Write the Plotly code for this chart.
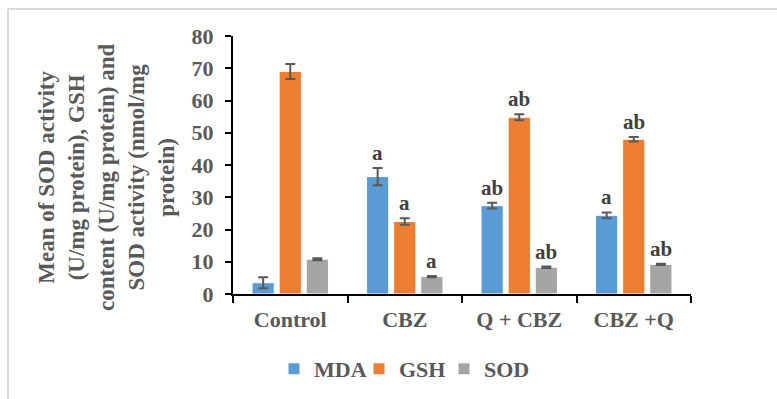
import plotly.graph_objects as go

categories = ["Control", "CBZ", "Q + CBZ", "CBZ +Q"]
series_names = ["MDA", "GSH", "SOD"]
mda = [3.5, 36.4, 27.4, 24.4]
mda_err = [1.7, 2.7, 0.9, 0.9]
gsh = [69.0, 22.5, 54.8, 48.0]
gsh_err = [2.3, 1.0, 0.9, 0.7]
sod = [10.8, 5.4, 8.3, 9.2]
sod_err = [0.3, 0.2, 0.2, 0.2]
letters_mda = ["", "a", "ab", "a"]
letters_gsh = ["", "a", "ab", "ab"]
letters_sod = ["", "a", "ab", "ab"]
y_ticks = [0, 10, 20, 30, 40, 50, 60, 70, 80]
y_title = "Mean of SOD activity<br>(U/mg protein), GSH<br>content (U/mg protein) and<br>SOD activity (nmol/mg<br>protein)"

colors = ["#5b9bd5", "#ed7d31", "#a5a5a5"]
FONT = "Liberation Serif, Times New Roman, serif"
TXT = "#595959"

W, H = 777, 399
L, R, T, B = 233, 86, 36, 105
PW, PH = W - L - R, H - T - B


def px(xp):
    return (xp - L) / PW


def py(yp):
    return (H - B - yp) / PH


values = [mda, gsh, sod]
errs = [mda_err, gsh_err, sod_err]
letters = [letters_mda, letters_gsh, letters_sod]

bargap = 0.29
fig = go.Figure()
for name, v, e, c in zip(series_names, values, errs, colors):
    fig.add_trace(go.Bar(
        name="<b>" + name + "</b>", x=categories, y=v,
        marker=dict(color=c, line=dict(color="#ffffff", width=1)),
        error_y=dict(type="data", array=e, visible=True, color="#595959", thickness=2, width=5),
    ))

slot = (1 - bargap) / 3
annotations = []
for si, (v, e, lab) in enumerate(zip(values, errs, letters)):
    for ci in range(len(categories)):
        if lab[ci]:
            annotations.append(dict(
                x=ci + (si - 1) * slot, y=v[ci] + e[ci], xref="x", yref="y",
                text="<b>" + lab[ci] + "</b>", showarrow=False, yanchor="bottom", yshift=1,
                font=dict(family=FONT, size=21, color="#404040"),
            ))
annotations.append(dict(
    x=px(106), y=py(178), xref="paper", yref="paper", text="<b>" + y_title + "</b>",
    textangle=-90, showarrow=False, xanchor="center", yanchor="middle",
    font=dict(family=FONT, size=23, color=TXT),
))

fig.update_layout(
    width=W, height=H,
    margin=dict(l=L, r=R, t=T, b=B, autoexpand=False),
    paper_bgcolor="white", plot_bgcolor="white",
    barmode="group", bargap=bargap, bargroupgap=0.18,
    font=dict(family=FONT, color=TXT),
    showlegend=True,
    legend=dict(orientation="h", x=px(274), xanchor="left", y=py(369), yanchor="middle",
                font=dict(family=FONT, size=22, color=TXT), itemwidth=30,
                entrywidth=40, entrywidthmode="pixels",
                bgcolor="rgba(0,0,0,0)"),
    annotations=annotations,
)
fig.update_xaxes(
    type="category", showline=True, linecolor="black", linewidth=2, automargin=False,
    ticks="outside", tickson="boundaries", ticklen=7, tickcolor="black", tickwidth=2,
    tickfont=dict(family=FONT, size=22, color=TXT),
    tickvals=categories, ticktext=["<b>" + c + "</b>" for c in categories],
    showgrid=False, ticklabelstandoff=5,
)
fig.update_yaxes(
    range=[0, 80], tickvals=y_ticks, ticktext=["<b>%d</b>" % t for t in y_ticks],
    showline=True, linecolor="black", linewidth=2,
    ticks="outside", ticklen=6, tickcolor="black", tickwidth=2, automargin=False,
    tickfont=dict(family=FONT, size=22, color=TXT),
    showgrid=False, zeroline=False, ticklabelstandoff=7,
)
# outer chart frame
fig.add_shape(type="line", xref="paper", yref="paper", x0=px(8), x1=px(778), y0=py(9), y1=py(9),
              line=dict(color="#d9d9d9", width=2))
fig.add_shape(type="line", xref="paper", yref="paper", x0=px(8), x1=px(8), y0=py(9), y1=py(400),
              line=dict(color="#d9d9d9", width=2))
fig.write_html("out.html", config={"displayModeBar": False},
               post_script="document.body.style.margin='0';document.body.style.padding='0';")
